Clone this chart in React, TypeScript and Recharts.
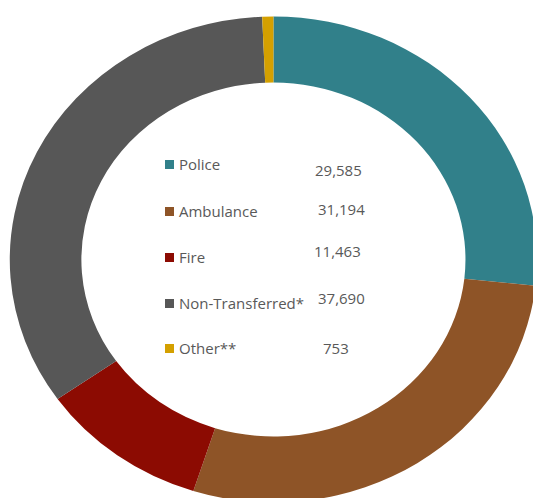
import React from "react";
import { PieChart, Pie, Cell } from "recharts";

const categories = ["Police", "Ambulance", "Fire", "Non-Transferred*", "Other**"];
const counts = [29585, 31194, 11463, 37690, 753];
const colors = ["#31808A", "#8E5427", "#8C0B02", "#575757", "#D4A000"];

// legend row positions
const valueX = [315, 318, 314, 318, 323];
const labelY = [164, 211, 257, 303, 348];
const valueY = [170, 209, 251, 298, 348];

const data = categories.map((name, i) => ({ name, value: counts[i] }));

const fmt = (v: number) => v.toLocaleString("en-US");

export default function App() {
  return (
    <div
      style={{
        position: "absolute",
        left: 0,
        top: 0,
        width: 533,
        height: 498,
        overflow: "hidden",
        background: "#fff",
        fontFamily: "'Open Sans', sans-serif",
      }}
    >
      <div style={{ transform: "scaleX(1.085)", transformOrigin: "268px 254px" }}>
        <PieChart width={533} height={498}>
          <Pie
            data={data}
            dataKey="value"
            nameKey="name"
            cx={268}
            cy={254.5}
            outerRadius={243}
            innerRadius={177}
            startAngle={90}
            endAngle={-270}
            stroke="none"
            isAnimationActive={false}
          >
            {data.map((d, i) => (
              <Cell key={d.name} fill={colors[i]} />
            ))}
          </Pie>
        </PieChart>
      </div>
      {data.map((d, i) => (
        <React.Fragment key={d.name}>
          <div
            style={{
              position: "absolute",
              left: 165,
              top: labelY[i] - 10,
              height: 20,
              display: "flex",
              alignItems: "center",
              fontSize: 15,
              color: "#595959",
              whiteSpace: "nowrap",
            }}
          >
            <span
              style={{
                display: "inline-block",
                width: 9,
                height: 9,
                background: colors[i],
                marginRight: 5,
              }}
            />
            {d.name}
          </div>
          <div
            style={{
              position: "absolute",
              left: valueX[i],
              top: valueY[i] - 10,
              height: 20,
              lineHeight: "20px",
              fontSize: 15,
              color: "#595959",
            }}
          >
            {fmt(d.value)}
          </div>
        </React.Fragment>
      ))}
    </div>
  );
}
